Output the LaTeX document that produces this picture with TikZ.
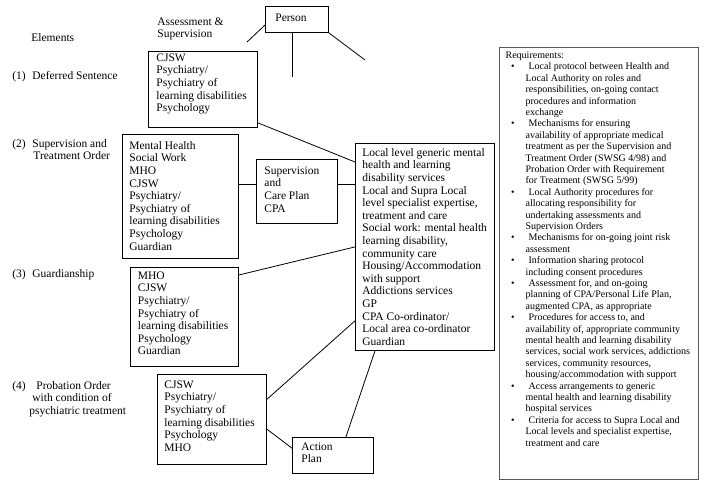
\documentclass[tikz,border=0pt]{standalone}
\usepackage{fontspec}
\setmainfont{Liberation Serif}
\newcommand{\boxfont}{\fontsize{11.5}{12.6}\selectfont}
\newcommand{\reqfont}{\fontsize{10}{11.4}\selectfont}
\newcommand{\cellbox}[3]{\begin{minipage}[t][#1][t]{#2}\raggedright\strut #3\end{minipage}}

\begin{document}
\begin{tikzpicture}[x=1pt,y=-1pt,line width=0.8pt,
  unit/.style={draw,anchor=north west,inner xsep=8pt,inner ysep=3pt,font=\boxfont},
  tag/.style={anchor=west,inner sep=0pt,align=left,font=\boxfont}]

\path[use as bounding box,fill=white] (0,0) rectangle (708,490);

% headings
\node[tag] (elm) at (31,38) {Elements};
\node[tag] (asv) at (157,29) {Assessment \&\\Supervision};

% elements down the left
\node[tag] (el1) at (12,77) {\makebox[20pt][l]{(1)}Deferred Sentence};
\node[tag] (el2) at (12,149.5) {\makebox[20pt][l]{(2)}Supervision and\\\hspace*{21pt}Treatment Order};
\node[tag] (el3) at (12,275) {\makebox[20pt][l]{(3)}Guardianship};
\node[tag] (el4) at (12,399) {\makebox[24pt][l]{(4)}Probation Order\\\hspace*{20pt}with condition of\\\hspace*{17pt}psychiatric treatment};

% person at the top
\node[unit,inner xsep=10pt,inner ysep=6pt] (per) at (265,6) {\cellbox{14pt}{43pt}{Person}};
\coordinate (asl) at (247,42);
\coordinate (pvt) at (292,77);
\coordinate (prt) at (365,60);
\draw (per.190) -- (asl);
\draw (per.south -| pvt) -- (pvt);
\draw (per.south east) -- (prt);

% assessment and supervision boxes
\node[unit,inner ysep=1pt] (dfr) at (148,51) {\cellbox{74pt}{93pt}{CJSW\\Psychiatry/\\Psychiatry of\\learning disabilities\\Psychology}};
\node[unit,inner xsep=7pt,inner ysep=6pt] (sto) at (122,134) {\cellbox{112pt}{102pt}{Mental Health\\Social Work\\MHO\\CJSW\\Psychiatry/\\Psychiatry of\\learning disabilities\\Psychology\\Guardian}};
\node[unit,inner ysep=6pt] (scp) at (256,159) {\cellbox{52pt}{65pt}{Supervision\\and\\Care Plan\\CPA}};
\node[unit,inner xsep=7.5pt,inner ysep=3pt] (grd) at (130,267) {\cellbox{93pt}{93pt}{MHO\\CJSW\\Psychiatry/\\Psychiatry of\\learning disabilities\\Psychology\\Guardian}};
\node[unit,inner xsep=7pt,inner ysep=5pt] (pot) at (157,374) {\cellbox{80pt}{95pt}{CJSW\\Psychiatry/\\Psychiatry of\\learning disabilities\\Psychology\\MHO}};
\node[unit,inner xsep=9pt,inner ysep=4pt] (acp) at (292,437) {\cellbox{28pt}{63pt}{Action\\Plan}};

% local services
\node[unit,inner xsep=7pt,inner ysep=4pt] (lrs) at (355,143) {\cellbox{199pt}{125pt}{Local level generic mental\\health and learning\\disability services\\Local and Supra Local\\level specialist expertise,\\treatment and care\\Social work: mental health\\learning disability,\\community care\\Housing/Accommodation\\with support\\Addictions services\\GP\\CPA Co-ordinator/\\Local area co-ordinator\\Guardian}};

\draw ([yshift=5pt]dfr.south east) -- ([yshift=-19pt]lrs.north west);
\draw (sto.east |- scp.170) -- (scp.170);
\draw (scp.10) -- (lrs.west |- scp.10);
\draw ([yshift=-8pt]grd.north east) -- (lrs.west);
\draw (pot.20) -- ([yshift=30pt]lrs.south west);
\draw (pot.-10) -- (acp.170);
\draw ([xshift=13pt]acp.north) -- ([xshift=20pt]lrs.south west);

% requirements
\node[unit,inner xsep=6pt,font=\reqfont,line width=1.2pt,draw=black!65] (req) at (499,47) {\cellbox{426pt}{187pt}{Requirements:
\begin{list}{\textbullet}{\setlength{\leftmargin}{20pt}\setlength{\labelsep}{11pt}\setlength{\labelwidth}{9pt}\setlength{\itemsep}{0pt}\setlength{\parsep}{0pt}\setlength{\topsep}{0pt}\setlength{\partopsep}{0pt}}
\item \hspace{3pt}Local protocol between Health and\\Local Authority on roles and\\responsibilities, on-going contact\\procedures and information\\exchange
\item \hspace{3pt}Mechanisms for ensuring\\availability of appropriate medical\\treatment as per the Supervision and\\Treatment Order (SWSG 4/98) and\\Probation Order with Requirement\\for Treatment (SWSG 5/99)
\item \hspace{3pt}Local Authority procedures for\\allocating responsibility for\\undertaking assessments and\\Supervision Orders
\item \hspace{3pt}Mechanisms for on-going joint risk\\assessment
\item \hspace{3pt}Information sharing protocol\\including consent procedures
\item \hspace{3pt}Assessment for, and on-going\\planning of CPA/Personal Life Plan,\\augmented CPA, as appropriate
\item \hspace{3pt}Procedures for access to, and\\availability of, appropriate community\\mental health and learning disability\\services, social work services, addictions\\services, community resources,\\housing/accommodation with support
\item \hspace{3pt}Access arrangements to generic\\mental health and learning disability\\hospital services
\item \hspace{3pt}Criteria for access to Supra Local and\\Local levels and specialist expertise,\\treatment and care
\end{list}}};

\end{tikzpicture}
\end{document}
